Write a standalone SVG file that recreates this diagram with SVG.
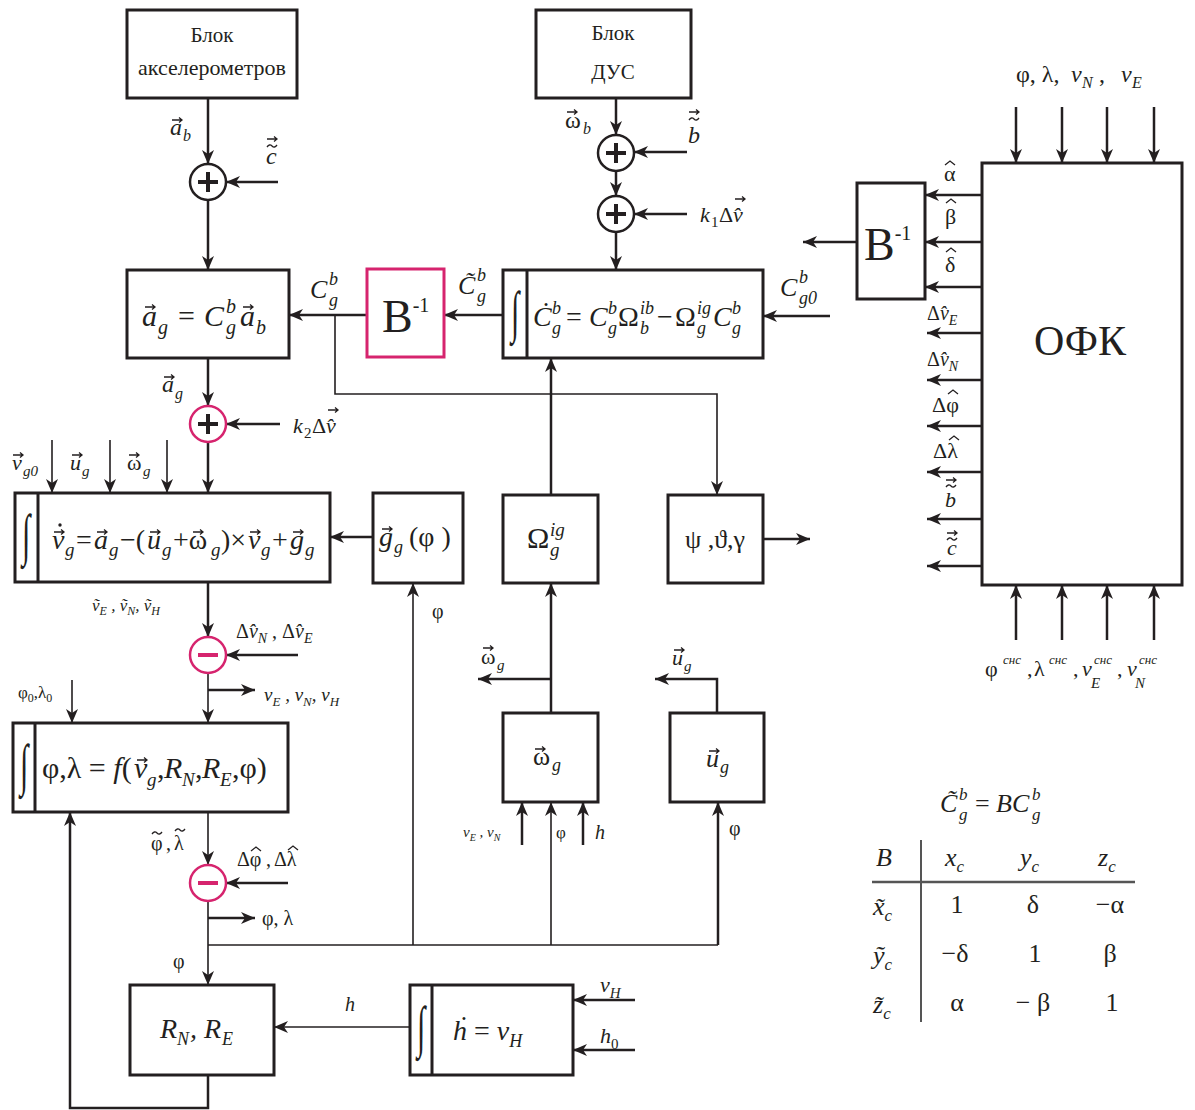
<svg xmlns="http://www.w3.org/2000/svg" width="1195" height="1110" viewBox="0 0 1195 1110">
<style>
.box{fill:#fff;stroke:#231f20;stroke-width:3}
.pk{fill:#fff;stroke:#d6246e;stroke-width:3}
.ln{fill:none;stroke:#231f20;stroke-width:2.5}
.th{fill:none;stroke:#231f20;stroke-width:1.6}
.t{font-family:"Liberation Serif",serif;fill:#231f20}
.i{font-style:italic}
.n{font-style:normal}
.sym{stroke:#231f20;stroke-width:4}
.psym{stroke:#d6246e;stroke-width:4}
.acc{fill:none;stroke:#231f20;stroke-width:1.3}
.int{font-family:"Liberation Serif",serif;fill:#231f20;font-size:30px;text-anchor:middle}
</style>
<defs>
<marker id="ar" markerUnits="userSpaceOnUse" markerWidth="16" markerHeight="12" refX="14" refY="6" orient="auto">
<path d="M0,0 L14,6 L0,12 L4,6 z" fill="#231f20"/>
</marker>
<path id="va" class="acc" d="M0,0 H10 M7,-2.5 L10,0 L7,2.5"/>
<path id="hat" class="acc" d="M0,4 L5,0 L10,4"/>
<path id="tld" class="acc" d="M0,1 Q2.5,-2.5 5,0 T10,-1"/>
</defs>
<rect width="1195" height="1110" fill="#fff"/>

<g id="connectors">
<line class="ln" x1="208" y1="98" x2="208" y2="164" marker-end="url(#ar)"/>
<line class="ln" x1="278" y1="182" x2="226" y2="182" marker-end="url(#ar)"/>
<line class="ln" x1="208" y1="200" x2="208" y2="270" marker-end="url(#ar)"/>
<line class="ln" x1="616" y1="98" x2="616" y2="135" marker-end="url(#ar)"/>
<line class="ln" x1="616" y1="171" x2="616" y2="196" marker-end="url(#ar)"/>
<line class="ln" x1="616" y1="232" x2="616" y2="270" marker-end="url(#ar)"/>
<line class="ln" x1="687" y1="152" x2="634" y2="152" marker-end="url(#ar)"/>
<line class="ln" x1="687" y1="214" x2="634" y2="214" marker-end="url(#ar)"/>
<line class="ln" x1="830" y1="316" x2="763" y2="316" marker-end="url(#ar)"/>
<line class="ln" x1="503" y1="315" x2="444" y2="315" marker-end="url(#ar)"/>
<line class="ln" x1="367" y1="315" x2="289" y2="315" marker-end="url(#ar)"/>
<path class="th" d="M335,315 V394 H717 V495" marker-end="url(#ar)"/>
<line class="ln" x1="551" y1="495" x2="551" y2="358" marker-end="url(#ar)"/>
<line class="ln" x1="857" y1="242" x2="803" y2="242" marker-end="url(#ar)"/>
<line class="ln" x1="1016" y1="107" x2="1016" y2="163" marker-end="url(#ar)"/>
<line class="ln" x1="1062" y1="107" x2="1062" y2="163" marker-end="url(#ar)"/>
<line class="ln" x1="1107" y1="107" x2="1107" y2="163" marker-end="url(#ar)"/>
<line class="ln" x1="1154" y1="107" x2="1154" y2="163" marker-end="url(#ar)"/>
<line class="ln" x1="982" y1="195" x2="925" y2="195" marker-end="url(#ar)"/>
<line class="ln" x1="982" y1="242" x2="925" y2="242" marker-end="url(#ar)"/>
<line class="ln" x1="982" y1="287" x2="925" y2="287" marker-end="url(#ar)"/>
<line class="ln" x1="982" y1="333" x2="927" y2="333" marker-end="url(#ar)"/>
<line class="ln" x1="982" y1="380" x2="927" y2="380" marker-end="url(#ar)"/>
<line class="ln" x1="982" y1="426" x2="927" y2="426" marker-end="url(#ar)"/>
<line class="ln" x1="982" y1="472" x2="927" y2="472" marker-end="url(#ar)"/>
<line class="ln" x1="982" y1="519" x2="927" y2="519" marker-end="url(#ar)"/>
<line class="ln" x1="982" y1="566" x2="927" y2="566" marker-end="url(#ar)"/>
<line class="ln" x1="1016" y1="640" x2="1016" y2="585" marker-end="url(#ar)"/>
<line class="ln" x1="1062" y1="640" x2="1062" y2="585" marker-end="url(#ar)"/>
<line class="ln" x1="1107" y1="640" x2="1107" y2="585" marker-end="url(#ar)"/>
<line class="ln" x1="1154" y1="640" x2="1154" y2="585" marker-end="url(#ar)"/>
<line class="ln" x1="208" y1="358" x2="208" y2="406" marker-end="url(#ar)"/>
<line class="ln" x1="280" y1="424" x2="226" y2="424" marker-end="url(#ar)"/>
<line class="ln" x1="208" y1="442" x2="208" y2="493" marker-end="url(#ar)"/>
<line class="th" x1="52" y1="440" x2="52" y2="493" marker-end="url(#ar)"/>
<line class="th" x1="110" y1="440" x2="110" y2="493" marker-end="url(#ar)"/>
<line class="th" x1="167" y1="440" x2="167" y2="493" marker-end="url(#ar)"/>
<line class="ln" x1="373" y1="537" x2="330" y2="537" marker-end="url(#ar)"/>
<line class="ln" x1="208" y1="582" x2="208" y2="637" marker-end="url(#ar)"/>
<line class="ln" x1="298" y1="655" x2="226" y2="655" marker-end="url(#ar)"/>
<line class="th" x1="208" y1="673" x2="208" y2="723" marker-end="url(#ar)"/>
<line class="ln" x1="208" y1="690" x2="255" y2="690" marker-end="url(#ar)"/>
<line class="th" x1="72" y1="680" x2="72" y2="723" marker-end="url(#ar)"/>
<line class="th" x1="208" y1="812" x2="208" y2="865" marker-end="url(#ar)"/>
<line class="ln" x1="288" y1="883" x2="226" y2="883" marker-end="url(#ar)"/>
<line class="th" x1="208" y1="901" x2="208" y2="985" marker-end="url(#ar)"/>
<line class="ln" x1="208" y1="918" x2="255" y2="918" marker-end="url(#ar)"/>
<path class="th" d="M208,945 H718"/>
<line class="th" x1="413" y1="945" x2="413" y2="583" marker-end="url(#ar)"/>
<line class="th" x1="551" y1="945" x2="551" y2="802" marker-end="url(#ar)"/>
<line class="ln" x1="718" y1="945" x2="718" y2="802" marker-end="url(#ar)"/>
<line class="ln" x1="522" y1="845" x2="522" y2="802" marker-end="url(#ar)"/>
<line class="ln" x1="583" y1="845" x2="583" y2="802" marker-end="url(#ar)"/>
<line class="ln" x1="551" y1="713" x2="551" y2="583" marker-end="url(#ar)"/>
<line class="ln" x1="551" y1="679" x2="478" y2="679" marker-end="url(#ar)"/>
<path class="ln" d="M717,713 V679 H655" marker-end="url(#ar)"/>
<line class="ln" x1="763" y1="539" x2="810" y2="539" marker-end="url(#ar)"/>
<line class="th" x1="410" y1="1027" x2="274" y2="1027" marker-end="url(#ar)"/>
<line class="ln" x1="635" y1="1000" x2="573" y2="1000" marker-end="url(#ar)"/>
<line class="ln" x1="635" y1="1050" x2="573" y2="1050" marker-end="url(#ar)"/>
<path class="ln" d="M208,1075 V1108 H70 V812" marker-end="url(#ar)"/>
</g>

<g id="accel">
<rect class="box" x="127" y="10" width="170" height="88"/>
<text class="t" x="212" y="42" font-size="21" text-anchor="middle">Блок</text>
<text class="t" x="212" y="75" font-size="22" text-anchor="middle">акселерометров</text>
</g>
<g id="dus">
<rect class="box" x="536" y="10" width="155" height="88"/>
<text class="t" x="613" y="40" font-size="21" text-anchor="middle">Блок</text>
<text class="t" x="613" y="79" font-size="21" text-anchor="middle">ДУС</text>
</g>
<g id="sum1"><circle cx="208" cy="182" r="18" fill="#fff" stroke="#231f20" stroke-width="2.5"/><path class="sym" d="M198,182 H218 M208,172 V192"/></g>
<g id="sum2"><circle cx="616" cy="153" r="18" fill="#fff" stroke="#231f20" stroke-width="2.5"/><path class="sym" d="M606,153 H626 M616,143 V163"/></g>
<g id="sum3"><circle cx="616" cy="214" r="18" fill="#fff" stroke="#231f20" stroke-width="2.5"/><path class="sym" d="M606,214 H626 M616,204 V224"/></g>
<g id="sum4"><circle cx="208" cy="424" r="18" fill="#fff" stroke="#d6246e" stroke-width="2.5"/><path class="sym" d="M198,424 H218 M208,414 V434"/></g>
<g id="sub1"><circle cx="208" cy="655" r="18" fill="#fff" stroke="#d6246e" stroke-width="2.5"/><path class="psym" d="M198,655 H218"/></g>
<g id="sub2"><circle cx="208" cy="883" r="18" fill="#fff" stroke="#d6246e" stroke-width="2.5"/><path class="psym" d="M198,883 H218"/></g>

<g id="ag">
<rect class="box" x="127" y="270" width="162" height="88"/>
<text class="t i" font-size="30"><tspan x="142" y="326">a</tspan><tspan x="158" y="334" font-size="20">g</tspan><tspan class="n" x="178" y="326">=</tspan><tspan x="204" y="326">C</tspan><tspan x="226" y="313" font-size="20">b</tspan><tspan x="226" y="334" font-size="20">g</tspan><tspan x="240" y="326">a</tspan><tspan x="256" y="334" font-size="20">b</tspan></text>
<use href="#va" x="145" y="307"/><use href="#va" x="243" y="307"/>
</g>
<g id="binv1">
<rect class="pk" x="367" y="269" width="77" height="88"/>
<text class="t" x="382" y="332" font-size="46">B<tspan font-size="20" dy="-20">-1</tspan></text>
</g>
<g id="cdot">
<rect class="box" x="503" y="270" width="260" height="88"/>
<line x1="527" y1="270" x2="527" y2="358" stroke="#231f20" stroke-width="3"/>
<text class="int" transform="translate(515,331) scale(1,1.9)">&#x222B;</text>
<text class="t i" font-size="28"><tspan x="533" y="326">C&#x0307;</tspan><tspan x="552" y="314" font-size="18">b</tspan><tspan x="552" y="334" font-size="18">g</tspan><tspan class="n" x="566" y="326">=</tspan><tspan x="589" y="326">C</tspan><tspan x="608" y="314" font-size="18">b</tspan><tspan x="608" y="334" font-size="18">g</tspan><tspan class="n" x="618" y="326">Ω</tspan><tspan x="640" y="314" font-size="18">ib</tspan><tspan x="640" y="334" font-size="18">b</tspan><tspan class="n" x="657" y="326">−</tspan><tspan class="n" x="675" y="326">Ω</tspan><tspan x="697" y="314" font-size="18">ig</tspan><tspan x="697" y="334" font-size="18">g</tspan><tspan x="713" y="326">C</tspan><tspan x="732" y="314" font-size="18">b</tspan><tspan x="732" y="334" font-size="18">g</tspan></text>
</g>
<g id="binv2">
<rect class="box" x="857" y="183" width="68" height="116"/>
<text class="t" x="864" y="260" font-size="46">B<tspan font-size="20" dy="-20">-1</tspan></text>
</g>
<g id="ofk">
<rect class="box" x="982" y="163" width="200" height="422"/>
<text class="t" x="1080" y="355" font-size="42" text-anchor="middle">ОФК</text>
</g>
<g id="vint">
<rect class="box" x="15" y="493" width="315" height="89"/>
<line x1="38" y1="493" x2="38" y2="582" stroke="#231f20" stroke-width="3"/>
<text class="int" transform="translate(26,554) scale(1,1.9)">&#x222B;</text>
<text class="t i" font-size="28"><tspan x="52" y="549">v</tspan><tspan x="65" y="556" font-size="19">g</tspan><tspan class="n" x="76" y="549">=</tspan><tspan x="94" y="549">a</tspan><tspan x="109" y="556" font-size="19">g</tspan><tspan class="n" x="120" y="549">−(</tspan><tspan x="147" y="549">u</tspan><tspan x="162" y="556" font-size="19">g</tspan><tspan class="n" x="173" y="549">+ω</tspan><tspan x="211" y="556" font-size="19">g</tspan><tspan class="n" x="221" y="549">)×</tspan><tspan x="248" y="549">v</tspan><tspan x="261" y="556" font-size="19">g</tspan><tspan class="n" x="272" y="549">+</tspan><tspan x="290" y="549">g</tspan><tspan x="305" y="556" font-size="19">g</tspan></text>
<use href="#va" x="54" y="532"/><circle cx="60" cy="525" r="1.7" fill="#231f20"/>
<use href="#va" x="97" y="532"/><use href="#va" x="150" y="532"/><use href="#va" x="193" y="532"/><use href="#va" x="250" y="532"/><use href="#va" x="293" y="532"/>
</g>
<g id="gg">
<rect class="box" x="373" y="493" width="90" height="90"/>
<text class="t i" font-size="28"><tspan x="379" y="546">g</tspan><tspan x="394" y="553" font-size="18">g</tspan><tspan class="n" x="409" y="546">(φ )</tspan></text>
<use href="#va" x="382" y="529"/>
</g>
<g id="omega-ig">
<rect class="box" x="503" y="495" width="95" height="88"/>
<text class="t" font-size="30"><tspan x="527" y="548">Ω</tspan><tspan class="i" x="550" y="536" font-size="19">ig</tspan><tspan class="i" x="550" y="556" font-size="19">g</tspan></text>
</g>
<g id="angles">
<rect class="box" x="668" y="495" width="95" height="88"/>
<text class="t" x="715" y="548" font-size="26" text-anchor="middle">ψ ,ϑ,γ</text>
</g>
<g id="omega-g">
<rect class="box" x="503" y="713" width="95" height="89"/>
<text class="t" font-size="26"><tspan x="533" y="765">ω</tspan><tspan class="i" x="552" y="771" font-size="18">g</tspan></text>
<use href="#va" x="535" y="749"/>
</g>
<g id="u-g">
<rect class="box" x="670" y="713" width="94" height="89"/>
<text class="t i" font-size="26"><tspan x="706" y="767">u</tspan><tspan x="720" y="773" font-size="18">g</tspan></text>
<use href="#va" x="709" y="751"/>
</g>
<g id="philam">
<rect class="box" x="13" y="723" width="275" height="89"/>
<line x1="35" y1="723" x2="35" y2="812" stroke="#231f20" stroke-width="3"/>
<text class="int" transform="translate(24,784) scale(1,1.9)">&#x222B;</text>
<text class="t" font-size="30"><tspan x="42" y="778">φ,λ = </tspan><tspan class="i">f</tspan>(<tspan class="i" x="134" y="778">v</tspan><tspan class="i" x="147" y="786" font-size="19">g</tspan><tspan x="157" y="778">,</tspan><tspan class="i" x="164" y="778">R</tspan><tspan class="i" x="182" y="786" font-size="19">N</tspan><tspan x="195" y="778">,</tspan><tspan class="i" x="202" y="778">R</tspan><tspan class="i" x="220" y="786" font-size="19">E</tspan><tspan x="232" y="778">,φ)</tspan></text>
<use href="#va" x="137" y="760"/>
</g>
<g id="rnre">
<rect class="box" x="130" y="985" width="144" height="90"/>
<text class="t i" font-size="28"><tspan x="160" y="1038">R</tspan><tspan x="177" y="1045" font-size="18">N</tspan><tspan x="190" y="1038">, R</tspan><tspan x="222" y="1045" font-size="18">E</tspan></text>
</g>
<g id="hint">
<rect class="box" x="410" y="985" width="163" height="90"/>
<line x1="432" y1="985" x2="432" y2="1075" stroke="#231f20" stroke-width="3"/>
<text class="int" transform="translate(421,1046) scale(1,1.9)">&#x222B;</text>
<text class="t i" x="453" y="1040" font-size="28">h&#x0307;<tspan class="n"> = </tspan>v<tspan font-size="18" dy="7">H</tspan></text>
</g>

<g id="labels" class="t">
<text class="i" font-size="24"><tspan x="170" y="135">a</tspan><tspan x="183" y="141" font-size="16">b</tspan></text>
<use href="#va" x="172" y="120"/>
<text class="i" x="266" y="164" font-size="24">c</text>
<use href="#tld" x="267" y="146"/><use href="#va" x="267" y="139"/>
<text font-size="24"><tspan x="565" y="128">ω</tspan><tspan class="i" x="583" y="134" font-size="16">b</tspan></text>
<use href="#va" x="567" y="112"/>
<text class="i" x="688" y="143" font-size="24">b</text>
<use href="#tld" x="689" y="119"/><use href="#va" x="689" y="112"/>
<text font-size="22"><tspan class="i" x="700" y="222">k</tspan><tspan x="711" y="227" font-size="15">1</tspan><tspan x="719" y="222">Δ</tspan><tspan class="i" x="733" y="222">v&#x0302;</tspan></text>
<use href="#va" x="735" y="199"/>
<text class="i" font-size="26"><tspan x="310" y="298">C</tspan><tspan x="329" y="285" font-size="18">b</tspan><tspan x="329" y="306" font-size="18">g</tspan></text>
<text class="i" font-size="26"><tspan x="458" y="294">C&#x0303;</tspan><tspan x="477" y="281" font-size="18">b</tspan><tspan x="477" y="302" font-size="18">g</tspan></text>
<text class="i" font-size="26"><tspan x="780" y="296">C</tspan><tspan x="799" y="283" font-size="18">b</tspan><tspan x="799" y="304" font-size="18">g0</tspan></text>
<text class="i" font-size="24"><tspan x="162" y="392">a</tspan><tspan x="175" y="399" font-size="16">g</tspan></text>
<use href="#va" x="164" y="377"/>
<text font-size="22"><tspan class="i" x="293" y="433">k</tspan><tspan x="304" y="438" font-size="15">2</tspan><tspan x="312" y="433">Δ</tspan><tspan class="i" x="326" y="433">v&#x0302;</tspan></text>
<use href="#va" x="328" y="410"/>
<text class="i" font-size="22"><tspan x="12" y="470">v</tspan><tspan x="23" y="476" font-size="15">g0</tspan></text>
<use href="#va" x="13" y="455"/>
<text class="i" font-size="22"><tspan x="70" y="470">u</tspan><tspan x="82" y="476" font-size="15">g</tspan></text>
<use href="#va" x="72" y="455"/>
<text font-size="22"><tspan x="127" y="470">ω</tspan><tspan class="i" x="143" y="476" font-size="15">g</tspan></text>
<use href="#va" x="129" y="455"/>
<text class="i" x="92" y="611" font-size="17">v&#x0303;<tspan font-size="12" dy="4">E</tspan><tspan dy="-4"> , v&#x0303;</tspan><tspan font-size="12" dy="4">N</tspan><tspan dy="-4">, v&#x0303;</tspan><tspan font-size="12" dy="4">H</tspan></text>
<text x="236" y="638" font-size="20">Δ<tspan class="i">v&#x0302;</tspan><tspan class="i" font-size="14" dy="5">N</tspan><tspan dy="-5"> , Δ</tspan><tspan class="i">v&#x0302;</tspan><tspan class="i" font-size="14" dy="5">E</tspan></text>
<text class="i" x="264" y="701" font-size="19">v<tspan font-size="13" dy="5">E</tspan><tspan dy="-5"> , v</tspan><tspan font-size="13" dy="5">N</tspan><tspan dy="-5">, v</tspan><tspan font-size="13" dy="5">H</tspan></text>
<text x="18" y="698" font-size="17">φ<tspan font-size="12" dy="4">0</tspan><tspan dy="-4">,λ</tspan><tspan font-size="12" dy="4">0</tspan></text>
<text x="432" y="618" font-size="20">φ</text>
<text font-size="20"><tspan x="151" y="850">φ</tspan><tspan x="166" y="850">,</tspan><tspan x="174" y="850">λ</tspan></text>
<use href="#tld" x="152" y="833"/><use href="#tld" x="175" y="830"/>
<text font-size="20"><tspan x="237" y="866">Δφ</tspan><tspan x="266" y="866">,</tspan><tspan x="274" y="866">Δλ</tspan></text>
<use href="#hat" x="251" y="847"/><use href="#hat" x="288" y="846"/>
<text x="262" y="925" font-size="20">φ, λ</text>
<text x="173" y="968" font-size="20">φ</text>
<text font-size="22"><tspan x="481" y="664">ω</tspan><tspan class="i" x="497" y="670" font-size="15">g</tspan></text>
<use href="#va" x="483" y="648"/>
<text class="i" font-size="22"><tspan x="672" y="665">u</tspan><tspan x="684" y="671" font-size="15">g</tspan></text>
<use href="#va" x="674" y="650"/>
<text class="i" x="463" y="837" font-size="15">v<tspan font-size="10" dy="4">E</tspan><tspan dy="-4"> , v</tspan><tspan font-size="10" dy="4">N</tspan></text>
<text x="556" y="838" font-size="17">φ</text>
<text class="i" x="595" y="839" font-size="20">h</text>
<text x="729" y="835" font-size="20">φ</text>
<text class="i" x="345" y="1011" font-size="20">h</text>
<text class="i" x="600" y="992" font-size="22">v<tspan font-size="15" dy="6">H</tspan></text>
<text class="i" x="600" y="1043" font-size="22">h<tspan class="n" font-size="15" dy="6">0</tspan></text>
<text font-size="24"><tspan x="1016" y="82">φ, λ,</tspan><tspan class="i" x="1071" y="82">v</tspan><tspan class="i" x="1082" y="88" font-size="16">N</tspan><tspan x="1099" y="82">,</tspan><tspan class="i" x="1121" y="82">v</tspan><tspan class="i" x="1132" y="88" font-size="16">E</tspan></text>
<text x="944" y="181" font-size="22">α</text><use href="#hat" x="945" y="161"/>
<text x="945" y="224" font-size="22">β</text><use href="#hat" x="946" y="199"/>
<text x="945" y="272" font-size="22">δ</text><use href="#hat" x="946" y="248"/>
<text x="927" y="320" font-size="20">Δ<tspan class="i">v&#x0302;</tspan><tspan class="i" font-size="14" dy="5">E</tspan></text>
<text x="927" y="366" font-size="20">Δ<tspan class="i">v&#x0302;</tspan><tspan class="i" font-size="14" dy="5">N</tspan></text>
<text x="932" y="412" font-size="22">Δφ</text><use href="#hat" x="948" y="390"/>
<text x="933" y="458" font-size="22">Δλ</text><use href="#hat" x="949" y="436"/>
<text class="i" x="945" y="507" font-size="22">b</text>
<use href="#tld" x="946" y="486"/><use href="#va" x="946" y="480"/>
<text class="i" x="947" y="555" font-size="22">c</text>
<use href="#tld" x="947" y="539"/><use href="#va" x="947" y="533"/>
<text font-size="22"><tspan x="985" y="676">φ</tspan><tspan class="i" x="1003" y="664" font-size="13">снс</tspan><tspan x="1027" y="676">,</tspan><tspan x="1034" y="676">λ</tspan><tspan class="i" x="1049" y="664" font-size="13">снс</tspan><tspan x="1073" y="676">,</tspan><tspan class="i" x="1082" y="676">v</tspan><tspan class="i" x="1094" y="664" font-size="13">снс</tspan><tspan class="i" x="1091" y="688" font-size="15">E</tspan><tspan x="1117" y="676">,</tspan><tspan class="i" x="1127" y="676">v</tspan><tspan class="i" x="1139" y="664" font-size="13">снс</tspan><tspan class="i" x="1135" y="688" font-size="15">N</tspan></text>
</g>

<g id="table" class="t">
<text class="i" font-size="26"><tspan x="940" y="812">C&#x0303;</tspan><tspan x="959" y="800" font-size="17">b</tspan><tspan x="959" y="820" font-size="17">g</tspan><tspan class="n" x="975" y="812">=</tspan><tspan x="996" y="812">BC</tspan><tspan x="1032" y="800" font-size="17">b</tspan><tspan x="1032" y="820" font-size="17">g</tspan></text>
<line x1="921" y1="840" x2="921" y2="1022" stroke="#555" stroke-width="2"/>
<line x1="872" y1="882" x2="1135" y2="882" stroke="#555" stroke-width="2.5"/>
<text class="i" x="876" y="866" font-size="26">B</text>
<text class="i" x="945" y="866" font-size="26">x<tspan font-size="17" dy="6">c</tspan></text>
<text class="i" x="1020" y="866" font-size="26">y<tspan font-size="17" dy="6">c</tspan></text>
<text class="i" x="1098" y="866" font-size="26">z<tspan font-size="17" dy="6">c</tspan></text>
<text class="i" x="873" y="915" font-size="26">x&#x0303;<tspan font-size="17" dy="6">c</tspan></text>
<text class="i" x="873" y="964" font-size="26">y&#x0303;<tspan font-size="17" dy="6">c</tspan></text>
<text class="i" x="873" y="1013" font-size="26">z&#x0303;<tspan font-size="17" dy="6">c</tspan></text>
<text x="957" y="913" font-size="26" text-anchor="middle">1</text>
<text x="1033" y="913" font-size="26" text-anchor="middle">δ</text>
<text x="1110" y="913" font-size="26" text-anchor="middle">−α</text>
<text x="955" y="962" font-size="26" text-anchor="middle">−δ</text>
<text x="1035" y="962" font-size="26" text-anchor="middle">1</text>
<text x="1110" y="962" font-size="26" text-anchor="middle">β</text>
<text x="957" y="1011" font-size="26" text-anchor="middle">α</text>
<text x="1033" y="1011" font-size="26" text-anchor="middle">− β</text>
<text x="1112" y="1011" font-size="26" text-anchor="middle">1</text>
</g>
</svg>
